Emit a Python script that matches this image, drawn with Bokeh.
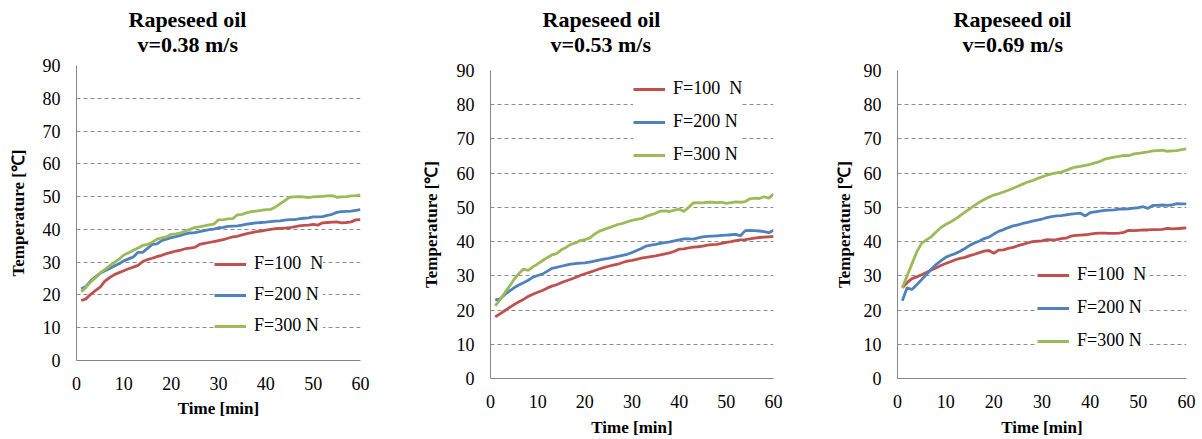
from bokeh.plotting import figure
from bokeh.layouts import row
from bokeh.models import Range1d, FixedTicker, Legend, LegendItem, Title
from bokeh.embed import file_html
from bokeh.resources import INLINE

# ---------------- data ----------------
time_min = list(range(1, 61))
legend_labels = ["F=100  N", "F=200 N", "F=300 N"]
titles = ["v=0.38 m/s", "v=0.53 m/s", "v=0.69 m/s"]
x_ticks = [0, 10, 20, 30, 40, 50, 60]
y_ticks = [0, 10, 20, 30, 40, 50, 60, 70, 80, 90]

p1_f100 = [18.3, 18.8, 20.2, 21.3, 22.4, 24.2, 25.3, 26.2, 26.8, 27.4, 28.0, 28.5, 29.0, 30.2, 30.8,
           31.2, 31.7, 32.1, 32.6, 33.0, 33.4, 33.7, 34.1, 34.3, 34.5, 35.4, 35.7, 36.0, 36.3, 36.6,
           36.9, 37.3, 37.7, 37.9, 38.3, 38.7, 39.0, 39.3, 39.5, 39.8, 40.0, 40.2, 40.3, 40.4, 40.5,
           40.8, 41.1, 41.2, 41.3, 41.5, 41.3, 42.0, 42.1, 42.2, 42.3, 42.0, 42.1, 42.3, 42.9, 43.0]
p1_f200 = [21.8, 22.6, 24.3, 25.5, 26.6, 27.4, 28.1, 28.8, 29.5, 30.4, 31.0, 31.6, 33.0, 33.0, 34.2,
           35.4, 35.6, 36.6, 37.0, 37.5, 37.8, 38.2, 38.6, 38.9, 39.0, 39.3, 39.6, 39.9, 40.1, 40.5,
           40.6, 40.9, 41.0, 41.1, 41.3, 41.6, 41.8, 42.0, 42.1, 42.2, 42.4, 42.5, 42.6, 42.8, 43.0,
           43.0, 43.2, 43.4, 43.5, 43.8, 43.8, 43.9, 44.3, 44.6, 45.2, 45.4, 45.5, 45.6, 45.8, 46.0]
p1_f300 = [21.0, 22.3, 24.0, 25.2, 26.7, 27.8, 28.9, 29.9, 30.9, 32.2, 32.9, 33.6, 34.3, 35.1, 35.4,
           36.1, 37.0, 37.4, 37.7, 38.5, 38.6, 38.9, 39.5, 40.0, 40.6, 40.8, 41.1, 41.4, 41.6, 42.9,
           43.0, 43.2, 43.3, 44.4, 44.6, 45.1, 45.4, 45.6, 45.8, 46.0, 46.1, 46.8, 47.8, 48.8, 49.8,
           49.9, 50.0, 49.9, 49.7, 49.9, 50.0, 50.1, 50.2, 50.3, 49.8, 49.9, 50.0, 50.2, 50.3, 50.5]

p2_f100 = [18.0, 18.9, 19.8, 20.7, 21.6, 22.4, 23.1, 24.0, 24.6, 25.2, 25.7, 26.4, 27.0, 27.4, 28.0,
           28.5, 29.0, 29.5, 30.1, 30.6, 31.0, 31.5, 32.0, 32.4, 32.8, 33.1, 33.4, 33.9, 34.3, 34.5,
           34.8, 35.2, 35.4, 35.6, 35.8, 36.1, 36.4, 36.7, 37.2, 37.8, 37.9, 38.2, 38.4, 38.5, 38.7,
           39.0, 39.1, 39.2, 39.5, 39.8, 40.0, 40.3, 40.5, 40.6, 40.8, 41.0, 41.2, 41.3, 41.4, 41.5]
p2_f200 = [23.0, 23.2, 24.5, 25.5, 26.5, 27.3, 28.0, 28.7, 29.6, 30.1, 30.5, 31.3, 32.2, 32.5, 32.8,
           33.1, 33.4, 33.6, 33.7, 33.8, 34.0, 34.3, 34.6, 34.9, 35.1, 35.4, 35.7, 36.0, 36.3, 36.8,
           37.4, 38.0, 38.7, 39.0, 39.2, 39.5, 39.7, 39.9, 40.2, 40.5, 40.8, 40.8, 40.7, 41.1, 41.4,
           41.5, 41.6, 41.7, 41.8, 41.9, 42.0, 42.1, 41.7, 43.2, 43.3, 43.2, 43.1, 42.9, 42.6, 43.3]
p2_f300 = [21.2, 23.0, 25.0, 26.9, 29.0, 30.6, 32.0, 31.6, 32.6, 33.5, 34.4, 35.3, 36.1, 36.5, 37.6,
           38.3, 39.2, 39.6, 40.3, 40.6, 41.0, 42.1, 43.0, 43.5, 44.0, 44.5, 45.0, 45.3, 45.8, 46.2,
           46.5, 46.7, 47.4, 47.8, 48.3, 48.9, 49.0, 48.8, 49.2, 49.5, 48.8, 50.0, 51.3, 51.4, 51.3,
           51.5, 51.5, 51.4, 51.5, 51.2, 51.4, 51.6, 51.5, 51.7, 52.5, 52.7, 52.6, 53.1, 52.7, 53.9]

p3_f100 = [26.5, 28.0, 29.2, 29.7, 30.3, 31.0, 31.7, 32.3, 33.0, 33.6, 34.1, 34.7, 35.1, 35.4, 35.9,
           36.3, 36.8, 37.2, 37.4, 36.6, 37.5, 37.6, 38.0, 38.3, 38.8, 39.2, 39.6, 40.0, 40.1, 40.2,
           40.6, 40.5, 40.6, 40.9, 41.0, 41.6, 41.8, 41.9, 42.0, 42.2, 42.4, 42.5, 42.5, 42.4, 42.4,
           42.5, 42.7, 43.3, 43.2, 43.3, 43.4, 43.4, 43.5, 43.5, 43.6, 43.9, 43.7, 43.8, 43.9, 44.0]
p3_f200 = [22.7, 26.5, 26.0, 27.4, 28.9, 30.4, 31.9, 33.3, 34.4, 35.4, 36.0, 36.5, 37.2, 38.0, 38.9,
           39.6, 40.2, 40.9, 41.3, 42.2, 43.0, 43.5, 44.1, 44.6, 44.9, 45.3, 45.6, 46.0, 46.3, 46.6,
           47.0, 47.3, 47.5, 47.6, 47.8, 48.0, 48.2, 48.3, 47.5, 48.5, 48.7, 48.9, 49.1, 49.2, 49.3,
           49.5, 49.5, 49.6, 49.8, 49.9, 50.2, 49.7, 50.6, 50.6, 50.7, 50.6, 50.7, 51.1, 51.0, 51.0]
p3_f300 = [26.5, 30.0, 33.5, 37.0, 39.5, 40.5, 41.4, 42.8, 44.1, 45.0, 45.7, 46.6, 47.6, 48.6, 49.6,
           50.6, 51.5, 52.3, 53.0, 53.6, 54.0, 54.5, 55.0, 55.6, 56.2, 56.8, 57.4, 57.8, 58.4, 58.9,
           59.4, 59.8, 60.1, 60.3, 60.8, 61.4, 61.8, 62.0, 62.3, 62.6, 63.0, 63.4, 64.1, 64.4, 64.7,
           64.9, 65.2, 65.1, 65.6, 65.8, 66.0, 66.2, 66.5, 66.6, 66.7, 66.4, 66.5, 66.6, 66.9, 67.1]

colors = ["#C0504D", "#4F81BD", "#9BBB59"]
FONT = "'Liberation Serif', 'Times New Roman', serif"
H = 439


def make_panel(series, subtitle, width, bl, br, bt, bb, leg_xy, leg_spacing,
               t1_off, t2_off, t1_standoff, t2_standoff, y_lab_standoff, x_tick_standoff, x_lab_standoff):
    p = figure(width=width, height=H, output_backend="svg", toolbar_location=None,
               x_range=Range1d(0, 60), y_range=Range1d(0, 90),
               min_border_left=bl, min_border_right=br, min_border_top=bt, min_border_bottom=bb)
    p.frame_align = False
    p.outline_line_color = None
    p.background_fill_color = "white"
    p.border_fill_color = "white"
    p.xgrid.grid_line_color = None
    p.ygrid.grid_line_color = "#8C8C8C"
    p.ygrid.grid_line_dash = "4 3"
    p.ygrid.grid_line_width = 1
    p.xaxis.ticker = FixedTicker(ticks=x_ticks)
    p.yaxis.ticker = FixedTicker(ticks=y_ticks)
    for ax in (p.xaxis[0], p.yaxis[0]):
        ax.axis_line_color = "#868686"
        ax.axis_line_width = 1
        ax.major_tick_line_color = None
        ax.minor_tick_line_color = None
        ax.major_tick_out = 0
        ax.major_tick_in = 0
        ax.major_label_text_font = FONT
        ax.major_label_text_font_size = "18px"
        ax.major_label_text_color = "black"
        ax.axis_label_text_font = FONT
        ax.axis_label_text_font_style = "bold"
        ax.axis_label_text_font_size = "17px"
        ax.axis_label_text_color = "black"
    p.xaxis.axis_label = "Time [min]"
    p.yaxis.axis_label = "Temperature [\u2103]"
    p.yaxis.major_label_standoff = 16
    p.yaxis.axis_label_standoff = y_lab_standoff
    p.xaxis.major_label_standoff = x_tick_standoff
    p.xaxis.axis_label_standoff = x_lab_standoff

    items = []
    for vals, col, lab in zip(series, colors, legend_labels):
        r = p.line(time_min, vals, line_color=col, line_width=2.8)
        items.append(LegendItem(label=lab, renderers=[r]))
    leg = Legend(items=items, location=leg_xy, orientation="vertical",
                 background_fill_color="white", background_fill_alpha=1.0,
                 border_line_color=None, padding=3, margin=0, spacing=leg_spacing,
                 glyph_width=32, glyph_height=20, label_height=20, label_standoff=8,
                 label_text_font=FONT, label_text_font_size="18px", label_text_color="black")
    p.add_layout(leg, "center")

    # two-line title: first added is closest to the frame
    p.add_layout(Title(text=subtitle, align="left", offset=t2_off, standoff=t2_standoff,
                       text_font=FONT, text_font_style="bold", text_font_size="22px",
                       text_color="black"), "above")
    p.add_layout(Title(text="Rapeseed oil", align="left", offset=t1_off, standoff=t1_standoff,
                       text_font=FONT, text_font_style="bold", text_font_size="22px",
                       text_color="black"), "above")
    return p


p1 = make_panel([p1_f100, p1_f200, p1_f300], titles[0], 400, 76, 40, 65, H - 360,
                (138, 24), 10, 52, 61, -21, 17, 12, 16, 6)
p2 = make_panel([p2_f100, p2_f200, p2_f300], titles[1], 400, 90, 27, 70, H - 382,
                (143, 213), 12, 52, 60, -31, 27, 13, 16, 7)
p3 = make_panel([p3_f100, p3_f200, p3_f300], titles[2], 402, 97, 16, 70, H - 382,
                (140, 27), 12, 56, 65, -31, 27, 7, 16, 7)

layout = row(p1, p2, p3)
open("out.html", "w").write(file_html(layout, INLINE))
